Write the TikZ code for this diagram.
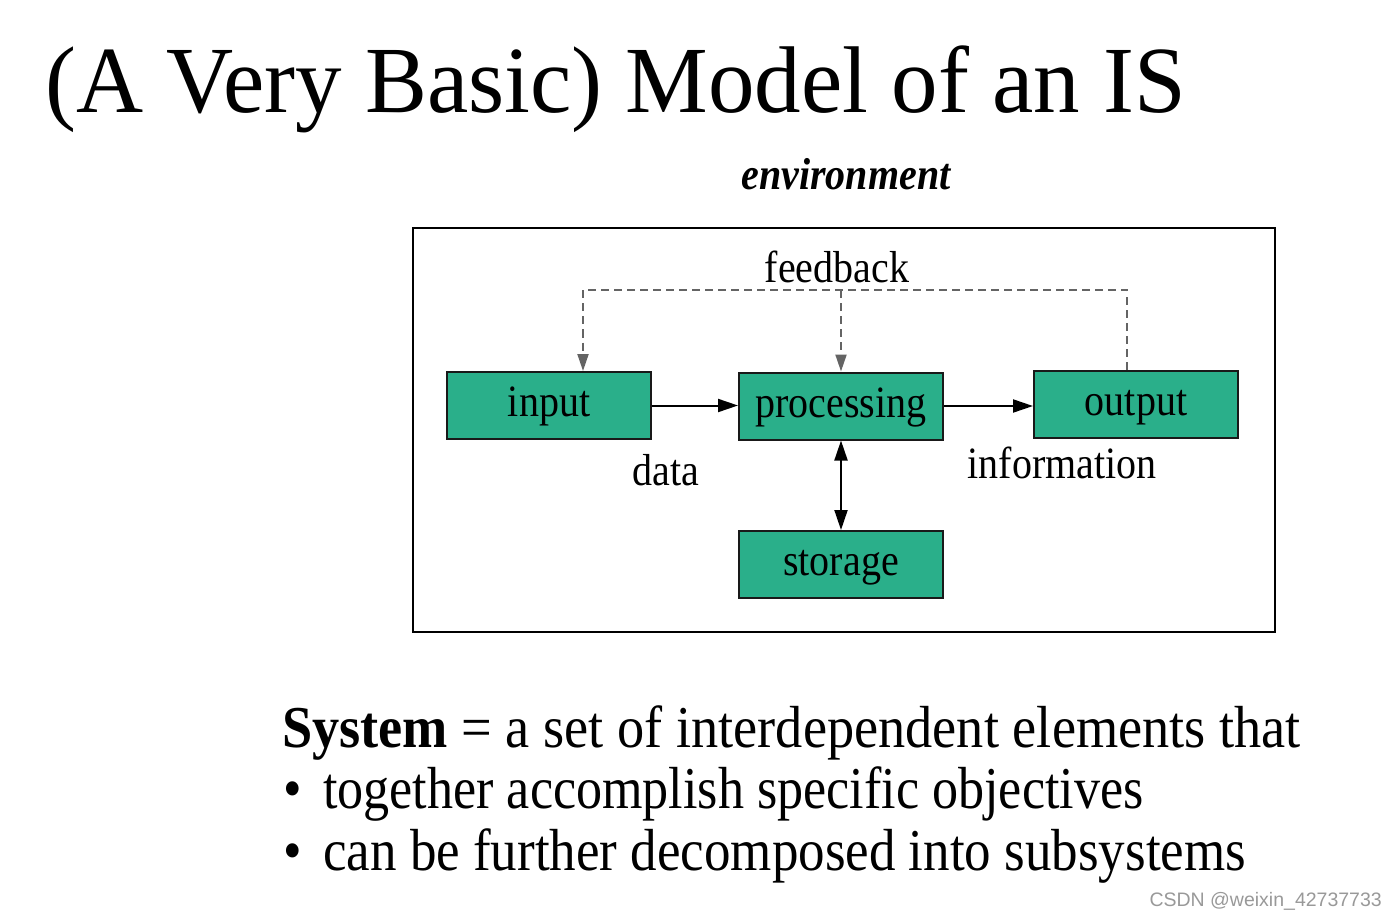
\documentclass[tikz,border=0pt]{standalone}
\usepackage{fontspec}
\setmainfont{Liberation Serif}
\newfontfamily\wmfont{Liberation Sans}
\usetikzlibrary{arrows.meta,calc}
\definecolor{boxgreen}{RGB}{42,175,138}
\definecolor{fbgray}{RGB}{100,100,100}
\newcommand\vs[1]{\scalebox{1}[1.12]{#1}}
\begin{document}
\begin{tikzpicture}[x=1pt,y=-1pt,
 txt/.style={inner sep=0pt, anchor=base},
 lbl/.style={txt, font=\fontsize{40}{48}\selectfont},
 block/.style={draw=black!90, line width=2pt, fill=boxgreen, minimum width=204pt, minimum height=67pt, inner sep=0pt, font=\fontsize{40}{48}\selectfont, text height=24pt, text depth=2pt},
 flow/.style={line width=2pt, -{Triangle[length=20pt,width=13pt]}},
 flowboth/.style={line width=2pt, {Triangle[length=20pt,width=13pt]}-{Triangle[length=20pt,width=13pt]}},
 fb/.style={draw=fbgray, line width=2pt, dash pattern=on 8pt off 5pt},
 fbarrow/.style={fb, -{Triangle[length=17pt,width=11pt,fill=fbgray]}}
]
\useasboundingbox (0,0) rectangle (1397,917);
\fill[white] (0,0) rectangle (1397,917);

\node[txt, anchor=base west, font=\fontsize{92}{110}\selectfont] (title) at (45,113) {\scalebox{1.01}[1.03]{(A Very Basic) Model of an IS}};

\node[txt, font=\fontsize{40}{48}\selectfont\bfseries\itshape] (env) at (846,190) {\vs{environment}};
\node[draw, line width=2.2pt, minimum width=862pt, minimum height=404pt, inner sep=0pt] (envbox) at (844,430) {};

\node[block] (input) at (549,405.5) {\vs{input}};
\node[block] (processing) at (841,406) {\vs{processing}};
\node[block] (output) at (1136,404) {\vs{output}};
\node[block] (storage) at (841,564.5) {\vs{storage}};

\node[lbl] (feedback) at (837,283) {\vs{feedback}};
\node[lbl] (data) at (666,485) {\vs{data}};
\node[lbl] (information) at (1062,478) {\vs{information}};

\draw[flow] (input.east) -- (input.east -| processing.west);
\draw[flow] (processing.east) -- (processing.east -| output.west);
\draw[flowboth] (processing.south) -- (storage.north);

\coordinate (fbtop) at (841,290);
\draw[fbarrow] ($(output.north)+(-9,0)$) |- (fbtop) -| ($(input.north)+(34,0)$);
\draw[fbarrow] (fbtop) -- (processing.north);

\node[txt, anchor=base west, font=\fontsize{53}{64}\selectfont] (line1) at (282,747) {\scalebox{1.025}[1.12]{\textbf{System} = a set of interdependent elements that}};
\node[txt, anchor=base west, font=\fontsize{53}{64}\selectfont] (bullet2) at (283,808) {\vs{\textbullet}};
\node[txt, anchor=base west, font=\fontsize{53}{64}\selectfont] (line2) at (323,808) {\scalebox{0.983}[1.12]{together accomplish specific objectives}};
\node[txt, anchor=base west, font=\fontsize{53}{64}\selectfont] (bullet3) at (283,870) {\vs{\textbullet}};
\node[txt, anchor=base west, font=\fontsize{53}{64}\selectfont] (line3) at (323,870) {\vs{can be further decomposed into subsystems}};

\node[txt, anchor=base east, font=\wmfont\fontsize{19.5}{22}\selectfont, text=black!40] (wm) at (1382,906) {CSDN @weixin\_42737733};
\end{tikzpicture}
\end{document}
